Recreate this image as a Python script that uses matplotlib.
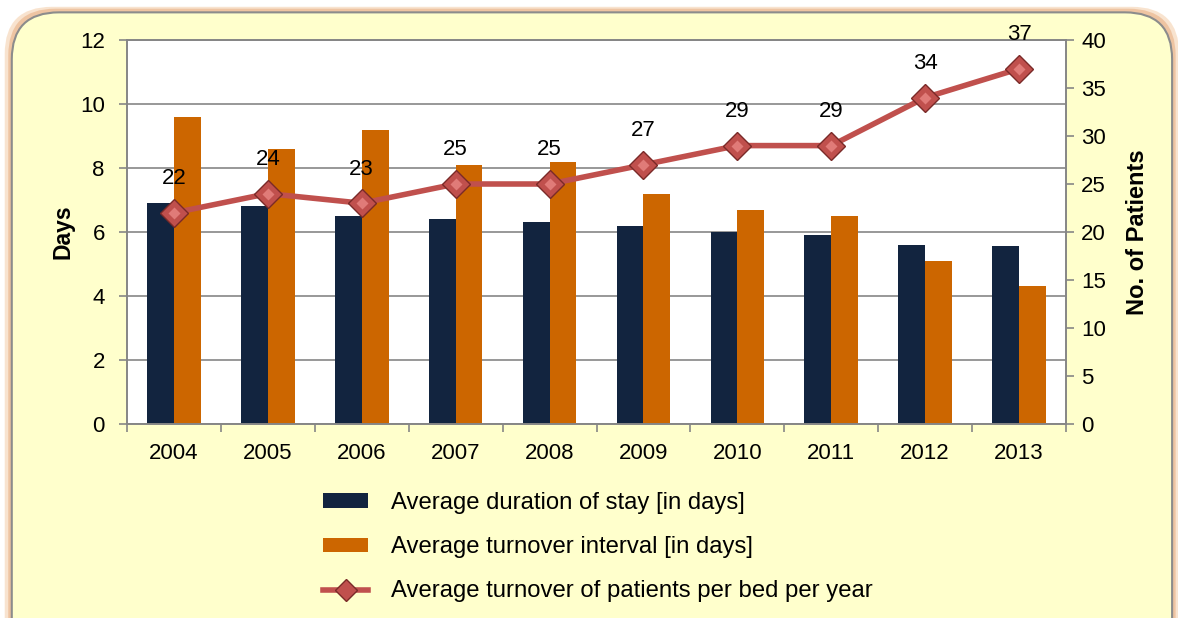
import numpy as np
import matplotlib.pyplot as plt
from matplotlib.patches import FancyBboxPatch, Patch
from matplotlib.lines import Line2D

plt.rcParams['font.family'] = ['Liberation Sans', 'DejaVu Sans']

years = ["2004", "2005", "2006", "2007", "2008", "2009", "2010", "2011", "2012", "2013"]
stay_days = [6.9, 6.8, 6.5, 6.4, 6.3, 6.2, 6.0, 5.9, 5.6, 5.55]
turnover_interval = [9.6, 8.6, 9.2, 8.1, 8.2, 7.2, 6.7, 6.5, 5.1, 4.3]
patients_per_bed = [22, 24, 23, 25, 25, 27, 29, 29, 34, 37]

fig = plt.figure(figsize=(11.78, 6.18), dpi=100)
fig.patch.set_facecolor('white')

# rounded background panel with soft orange glow, bottom runs off the image
for pad, col, a in [(0.012, '#F3C9A0', 0.5), (0.006, '#EBB890', 0.7)]:
    fig.patches.append(FancyBboxPatch((0.010 - pad / 2, -0.1 - pad / 2), 0.985 + pad, 1.083 + pad,
                                      boxstyle="round,pad=0,rounding_size=0.04",
                                      transform=fig.transFigure, facecolor=col, edgecolor='none',
                                      alpha=a, zorder=0, mutation_aspect=1.9))
fig.patches.append(FancyBboxPatch((0.010, -0.1), 0.985, 1.08,
                                  boxstyle="round,pad=0,rounding_size=0.04",
                                  transform=fig.transFigure, facecolor='#FFFFCC', edgecolor='#8C8C8C',
                                  linewidth=1.5, zorder=0, mutation_aspect=1.9))

ax = fig.add_axes([127 / 1178, 1 - 424 / 618, (1066 - 127) / 1178, (424 - 40) / 618])
ax.set_facecolor('white')
ax.set_zorder(1)

x = np.arange(len(years))
w = 0.285
ax.bar(x - w / 2, stay_days, w, color='#12243F', zorder=2)
ax.bar(x + w / 2, turnover_interval, w, color='#CC6600', zorder=2)

ax.set_xlim(-0.5, len(years) - 0.5)
ax.set_ylim(0, 12)
ax.set_yticks(range(0, 13, 2))
ax.set_xticks(x)
ax.set_xticklabels(years)
ax.set_xticks(np.arange(-0.5, len(years)), minor=True)
ax.tick_params(axis='x', which='major', length=0, pad=14, labelsize=16)
ax.tick_params(axis='x', which='minor', length=6, color='#868686', width=1.2)
ax.tick_params(axis='y', length=6, color='#868686', width=1.2, labelsize=16, pad=10)
ax.yaxis.grid(True, color='#868686', linewidth=1.2, zorder=0)
ax.set_axisbelow(True)
for s in ax.spines.values():
    s.set_color('#868686')
    s.set_linewidth(1.2)
ax.set_ylabel("Days", fontsize=16.5, fontweight='bold', labelpad=4)

ax2 = ax.twinx()
ax2.plot(x, patients_per_bed, color='#C0504D', linewidth=4, marker='D', markersize=14,
         markerfacecolor='#C0504D', markeredgecolor='#7A2A28', markeredgewidth=1, zorder=5)
# small highlight to hint at the bevelled diamond
ax2.plot(x, patients_per_bed, linestyle='none', marker='D', markersize=6,
         markerfacecolor='#E07B78', markeredgecolor='none', zorder=6)
for xi, v in zip(x, patients_per_bed):
    ax2.annotate(str(v), (xi, v), xytext=(0, 17), textcoords='offset points',
                 ha='center', va='bottom', fontsize=16)
ax2.set_ylim(0, 40)
ax2.set_yticks(range(0, 41, 5))
ax2.tick_params(axis='y', length=6, color='#868686', width=1.2, labelsize=16, pad=5)
for s in ax2.spines.values():
    s.set_color('#868686')
    s.set_linewidth(1.2)
ax2.set_ylabel("No. of Patients", fontsize=17, fontweight='bold', labelpad=14)

handles = [Patch(facecolor='#12243F', edgecolor='none'),
           Patch(facecolor='#CC6600', edgecolor='none'),
           Line2D([0], [0], color='#C0504D', linewidth=4, marker='D', markersize=11,
                  markerfacecolor='#C0504D', markeredgecolor='#7A2A28')]
labels = ["Average duration of stay [in days]",
          "Average turnover interval [in days]",
          "Average turnover of patients per bed per year"]
fig.legend(handles, labels, loc='upper left', bbox_to_anchor=(323 / 1178, 1 - 492 / 618),
           frameon=False, fontsize=17.2, handlelength=1.9, handleheight=0.55,
           labelspacing=0.93, handletextpad=0.95, borderpad=0, borderaxespad=0)

fig.savefig("out.png", dpi=100)
